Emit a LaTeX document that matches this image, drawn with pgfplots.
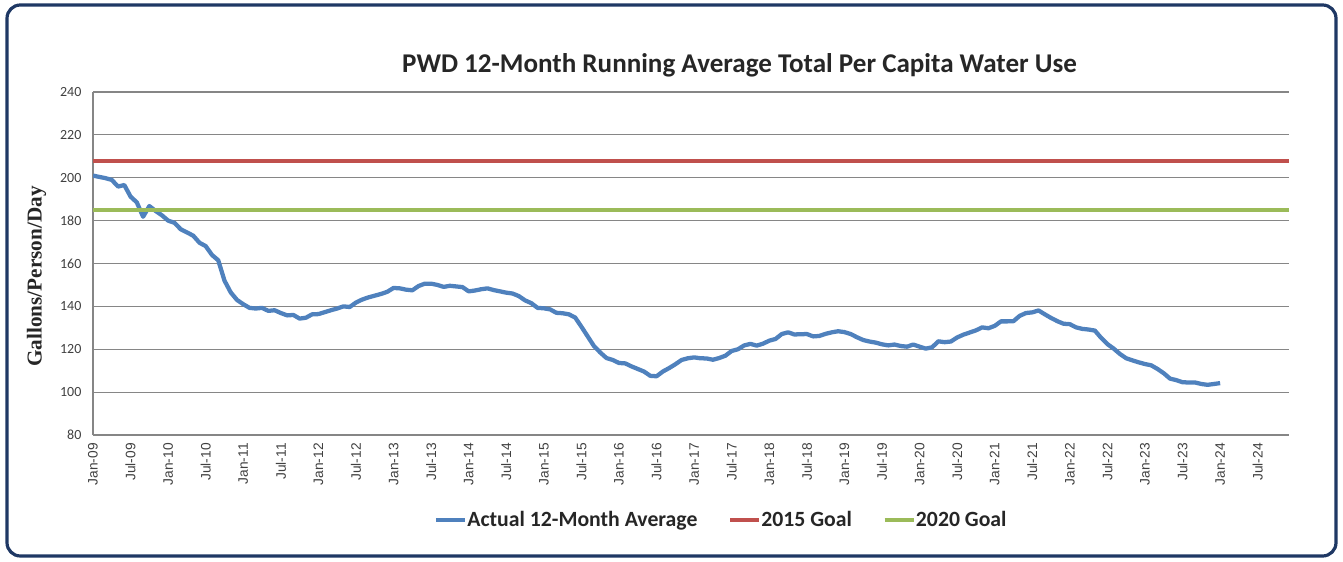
\documentclass[border=0pt]{standalone}
\usepackage{pgfplots}
\pgfplotsset{compat=1.18}
\usepackage{fontspec}
\setmainfont{Carlito}
\newfontfamily\timesb{Liberation Serif}
\newfontfamily\arialf{Liberation Sans}
\definecolor{actualblue}{RGB}{79,129,189}
\definecolor{goalred}{RGB}{192,80,77}
\definecolor{goalgreen}{RGB}{155,187,89}
\definecolor{framenavy}{RGB}{31,56,100}
\definecolor{textdark}{RGB}{38,38,38}
\definecolor{ticktext}{RGB}{64,64,64}
\definecolor{gridgray}{RGB}{134,134,134}

\pgfplotstableread{
m v
0 201.0
1 200.4
2 199.8
3 199.0
4 195.9
5 196.6
6 191.2
7 188.5
8 181.8
9 186.8
10 184.5
11 182.5
12 180.0
13 179.0
14 176.0
15 174.5
16 173.0
17 169.7
18 168.1
19 164.0
20 161.5
21 152.0
22 146.5
23 143.0
24 141.0
25 139.3
26 139.0
27 139.3
28 137.9
29 138.2
30 136.9
31 135.8
32 136.0
33 134.3
34 134.7
35 136.3
36 136.4
37 137.3
38 138.2
39 139.0
40 140.0
41 139.7
42 141.8
43 143.2
44 144.2
45 145.0
46 145.8
47 146.8
48 148.6
49 148.4
50 147.8
51 147.5
52 149.5
53 150.6
54 150.6
55 150.0
56 149.1
57 149.6
58 149.3
59 149.0
60 147.0
61 147.4
62 148.0
63 148.4
64 147.6
65 147.0
66 146.4
67 146.0
68 144.8
69 142.8
70 141.5
71 139.3
72 139.1
73 138.6
74 137.0
75 136.8
76 136.3
77 134.8
78 130.5
79 126.0
80 121.5
81 118.5
82 115.9
83 115.0
84 113.6
85 113.4
86 112.0
87 110.8
88 109.6
89 107.6
90 107.4
91 109.6
92 111.2
93 113.0
94 115.0
95 115.8
96 116.2
97 115.8
98 115.7
99 115.1
100 115.9
101 117.0
102 119.2
103 120.0
104 121.8
105 122.5
106 121.7
107 122.6
108 124.0
109 124.8
110 127.1
111 127.9
112 126.9
113 127.0
114 127.1
115 126.0
116 126.2
117 127.2
118 127.9
119 128.4
120 128.0
121 127.1
122 125.6
123 124.3
124 123.6
125 123.1
126 122.3
127 121.8
128 122.2
129 121.5
130 121.2
131 122.2
132 121.2
133 120.3
134 120.9
135 123.7
136 123.3
137 123.6
138 125.5
139 126.8
140 127.8
141 128.8
142 130.2
143 129.8
144 130.9
145 133.0
146 133.0
147 133.1
148 135.6
149 136.9
150 137.2
151 138.1
152 136.3
153 134.6
154 133.1
155 131.9
156 131.7
157 130.2
158 129.5
159 129.2
160 128.7
161 125.3
162 122.4
163 120.3
164 117.8
165 115.8
166 114.8
167 113.9
168 113.1
169 112.5
170 110.8
171 108.8
172 106.3
173 105.6
174 104.6
175 104.5
176 104.5
177 103.8
178 103.4
179 103.8
180 104.2
}\actualdata

\begin{document}
\begin{tikzpicture}
% canvas in reference pixels (1px = 0.75pt), y measured up from the bottom
\begin{scope}[x=0.75pt,y=0.75pt]
\path (0,0) rectangle (1343,561);
\draw[line width=2.4pt,framenavy,rounded corners=10pt] (7,5) rectangle (1336,556);
\node[font=\bfseries\fontsize{20.3}{24}\selectfont,text=textdark] at (739.5,496) {PWD 12-Month Running Average Total Per Capita Water Use};
\node[rotate=90,font=\timesb\bfseries\fontsize{15.9}{18}\selectfont,text=textdark] at (36.5,284.5) {Gallons/Person/Day};
\end{scope}
\begin{axis}[
  at={(69.75pt,94.5pt)}, anchor=south west,
  scale only axis,
  width=897pt, height=257.25pt,
  xmin=0, xmax=191,
  ymin=80, ymax=240,
  ytick={80,100,...,240},
  xtick={0,6,...,186},
  xticklabels={Jan-09,Jul-09,Jan-10,Jul-10,Jan-11,Jul-11,Jan-12,Jul-12,Jan-13,Jul-13,Jan-14,Jul-14,Jan-15,Jul-15,Jan-16,Jul-16,Jan-17,Jul-17,Jan-18,Jul-18,Jan-19,Jul-19,Jan-20,Jul-20,Jan-21,Jul-21,Jan-22,Jul-22,Jan-23,Jul-23,Jan-24,Jul-24},
  x tick label style={rotate=90,anchor=east,font=\arialf\fontsize{10.3}{12}\selectfont,text=ticktext,inner sep=0pt,xshift=-6pt},
  y tick label style={font=\fontsize{10.5}{12}\selectfont,text=ticktext,inner sep=0pt,xshift=-8.5pt},
  /pgf/number format/assume math mode=true,
  major tick length=0pt,
  axis x line=bottom, axis y line=left,
  axis line style={gridgray,line width=0.9pt,-},
  ymajorgrids, grid style={gridgray,line width=0.9pt},
  legend columns=3,
  legend style={at={(0.5255,-0.248)},anchor=center,draw=none,fill=none,
    font=\bfseries\fontsize{16.3}{19}\selectfont,text=textdark,
    /tikz/every even column/.append style={column sep=21pt},
    /tikz/every odd column/.append style={column sep=-2pt},inner sep=0pt},
  legend image code/.code={\draw[#1] (0pt,0pt) -- (22pt,0pt);},
]
\addplot[actualblue,line width=3.2pt,line join=round] table[x=m,y=v] {\actualdata};
\addlegendentry{Actual 12-Month Average}
\addplot[goalred,line width=3pt] coordinates {(0,208) (191,208)};
\addlegendentry{2015 Goal}
\addplot[goalgreen,line width=3pt] coordinates {(0,185) (191,185)};
\addlegendentry{2020 Goal}
\end{axis}
\end{tikzpicture}
\end{document}
